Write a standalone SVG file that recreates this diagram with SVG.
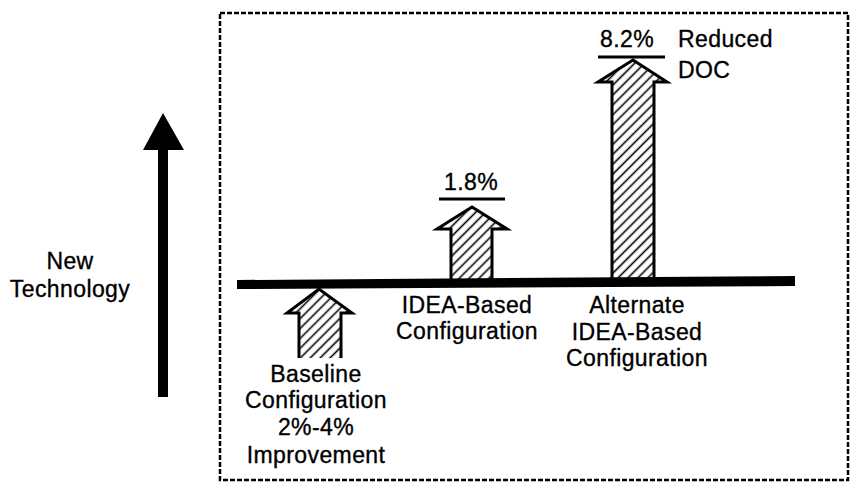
<svg xmlns="http://www.w3.org/2000/svg" width="851" height="490" viewBox="0 0 851 490">
<defs>
<pattern id="hatch" patternUnits="userSpaceOnUse" width="7" height="7" patternTransform="rotate(45)">
<line x1="3.5" y1="0" x2="3.5" y2="7" stroke="#000" stroke-width="1.6"/>
</pattern>
<style>
text{font-family:"Liberation Sans",Arial,sans-serif;font-size:23px;fill:#000;stroke:#000;stroke-width:0.35px;letter-spacing:0.4px}
.c{text-anchor:middle}
.hf{fill:url(#hatch);stroke:none}
.ho{fill:none;stroke:#000;stroke-width:3;stroke-linejoin:miter}
.ul{stroke:#000;stroke-width:3}
</style>
</defs>
<rect width="851" height="490" fill="#fff"/>
<rect id="frame" x="220" y="13" width="628" height="467" fill="none" stroke="#000" stroke-width="2.5" stroke-dasharray="5 2"/>
<g id="new-technology">
<polygon points="163,113 184,150 168,150 168,397 158,397 158,150 143,150" fill="#000"/>
<text class="c" x="70" y="269">New</text>
<text class="c" x="70" y="297">Technology</text>
</g>
<g id="axis-bar">
<polygon points="237,280 795,276 795,286 237,289" fill="#000"/>
</g>
<g id="baseline">
<polygon class="hf" points="319,289 352,313 341,313 341,358 299,358 299,313 287,313"/>
<path class="ho" d="M299,358 V313 H287 L319,289 L352,313 H341 V358"/>
<text class="c" x="316" y="382">Baseline</text>
<text class="c" x="316" y="408">Configuration</text>
<text class="c" x="316" y="435">2%-4%</text>
<text class="c" x="316" y="463">Improvement</text>
</g>
<g id="idea-based">
<polygon class="hf" points="472,207 507,229 492,229 492,280 451,280 451,229 437,229"/>
<path class="ho" d="M451,280 V229 H437 L472,207 L507,229 H492 V280"/>
<line class="ul" x1="439" y1="199" x2="505" y2="199"/>
<text class="c" x="471" y="190">1.8%</text>
<text class="c" x="467" y="313">IDEA-Based</text>
<text class="c" x="467" y="339">Configuration</text>
</g>
<g id="alternate">
<polygon class="hf" points="633,60 667,82 654,82 654,278 612,278 612,82 598,82"/>
<path class="ho" d="M612,278 V82 H598 L633,60 L667,82 H654 V278"/>
<line class="ul" x1="598" y1="57" x2="665" y2="57"/>
<text x="600" y="47">8.2%</text>
<text x="678" y="47">Reduced</text>
<text x="678" y="78">DOC</text>
<text class="c" x="637" y="313">Alternate</text>
<text class="c" x="637" y="340">IDEA-Based</text>
<text class="c" x="637" y="366">Configuration</text>
</g>
</svg>
